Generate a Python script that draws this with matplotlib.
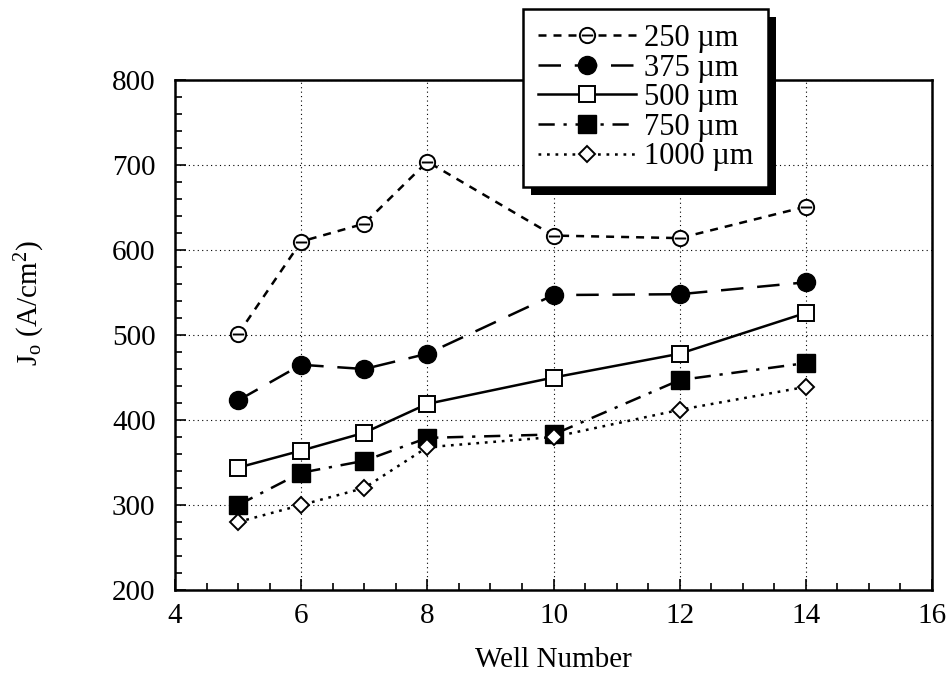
import matplotlib
matplotlib.use("Agg")
import matplotlib.pyplot as plt
from matplotlib.path import Path
from matplotlib.patches import Rectangle
from matplotlib.ticker import MultipleLocator

plt.rcParams['font.family'] = ['Liberation Serif', 'DejaVu Serif']
plt.rcParams['mathtext.fontset'] = 'custom'
plt.rcParams['mathtext.rm'] = 'Liberation Serif'
plt.rcParams['mathtext.it'] = 'Liberation Serif'

# Well numbers and current density per ridge width
wells = [5, 6, 7, 8, 10, 12, 14]
labels = ['250 µm', '375 µm', '500 µm', '750 µm', '1000 µm']
j_250 = [501, 610, 631, 704, 617, 614, 651]
j_375 = [423, 465, 460, 478, 547, 548, 562]
j_500 = [344, 364, 385, 419, 450, 478, 526]
j_750 = [300, 338, 352, 379, 383, 447, 467]
j_1000 = [280, 300, 320, 368, 380, 412, 439]

# circle with a horizontal bar (theta-like marker)
bar = Path([(-0.75, 0), (0.75, 0)], [Path.MOVETO, Path.LINETO])
theta_marker = Path.make_compound_path(Path.unit_circle(), bar)

fig = plt.figure(figsize=(9.53, 6.81), dpi=100)
ax = fig.add_axes([0.1836, 0.1336, 0.7944, 0.7489])

lw = 1.8
styles = [
    dict(ls=(0, (3.2, 2.8)), marker=theta_marker, ms=11, mfc='white', mew=1.4),
    dict(ls=(0, (9, 5.5)), marker='o', ms=13, mfc='black', mew=1.0),
    dict(ls='-', marker='s', ms=12, mfc='white', mew=1.4),
    dict(ls=(0, (6.5, 3.5, 1.3, 3.5)), marker='s', ms=12.5, mfc='black', mew=1.0),
    dict(ls=(0, (1.1, 2.3)), marker='D', ms=8.5, mfc='white', mew=1.4),
]
series = [j_250, j_375, j_500, j_750, j_1000]
handles = []
for vals, lab, st in zip(series, labels, styles):
    h, = ax.plot(wells, vals, color='black', lw=lw, linestyle=st['ls'],
                 marker=st['marker'], markersize=st['ms'],
                 markerfacecolor=st['mfc'], markeredgecolor='black',
                 markeredgewidth=st['mew'], label=lab, zorder=3)
    handles.append(h)

ax.set_xlim(4, 16)
ax.set_ylim(200, 800)
ax.xaxis.set_major_locator(MultipleLocator(2))
ax.xaxis.set_minor_locator(MultipleLocator(0.5))
ax.yaxis.set_major_locator(MultipleLocator(100))
ax.yaxis.set_minor_locator(MultipleLocator(20))
ax.tick_params(which='both', direction='in', labelsize=21, width=1.2)
ax.tick_params(which='major', length=8)
ax.tick_params(which='minor', length=5)
ax.tick_params(axis='y', pad=14)
ax.tick_params(axis='x', pad=9)
for s in ax.spines.values():
    s.set_linewidth(1.8)

ax.grid(True, which='major', linestyle=(0, (1, 3)), color='black', lw=0.8)

ax.set_xlabel('Well Number', fontsize=21, labelpad=13)
fig.text(30 / 953, 1 - 303 / 681, r'J$_\mathrm{o}$ (A/cm$^\mathrm{2}$)',
         fontsize=21, rotation=90, ha='center', va='center')

leg = ax.legend(handles=handles, loc='upper left', bbox_to_anchor=(0.4597, 1.14),
                fontsize=22, frameon=True, fancybox=False, edgecolor='black',
                framealpha=1, handlelength=3.2, handletextpad=0.25,
                labelspacing=0.02, borderpad=0.5, borderaxespad=0)
leg.get_frame().set_linewidth(1.8)
leg.set_zorder(6)

# drop shadow behind the legend box
fig.canvas.draw()
bb = leg.get_window_extent()
off = 8
shadow = Rectangle((bb.x0 + off, bb.y0 - off), bb.width, bb.height,
                   transform=None, facecolor='black', edgecolor='none',
                   clip_on=False, zorder=5.9)
ax.add_artist(shadow)

fig.savefig('out.png', dpi=100)
